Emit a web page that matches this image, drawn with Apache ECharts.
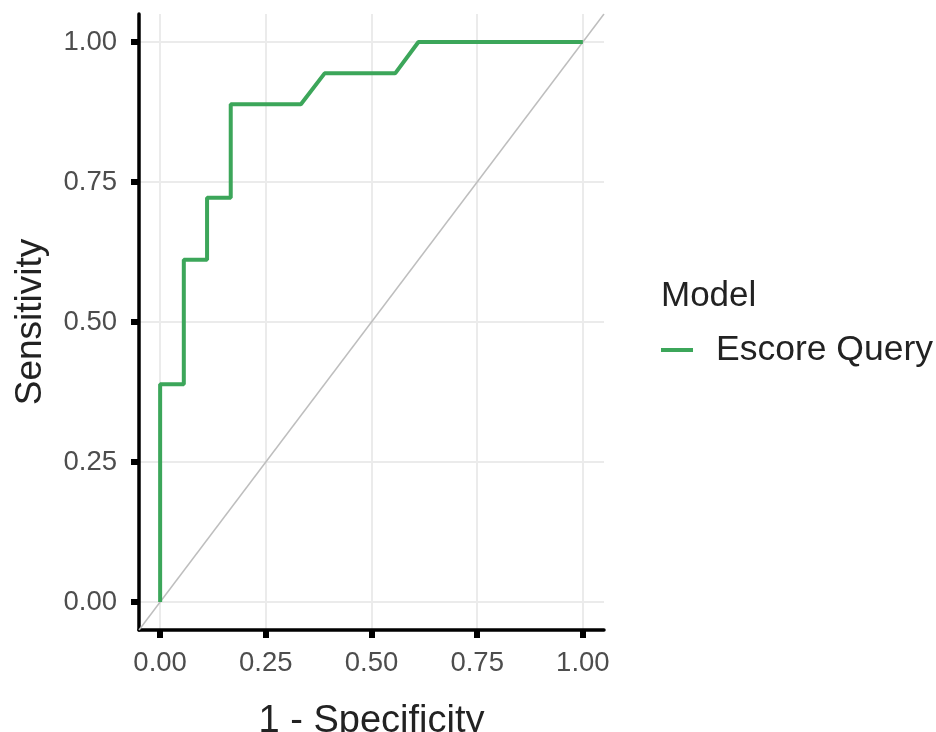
<!DOCTYPE html>
<html>
<head>
<meta charset="utf-8">
<script src="https://cdn.jsdelivr.net/npm/echarts@6/dist/echarts.min.js"></script>
<style>
  html, body { margin: 0; padding: 0; background: #fff; }
  #echarts { width: 936px; height: 732px; }
</style>
</head>
<body>
<div id="echarts"></div>
<script>
// ROC curve steps (1 - specificity, sensitivity)
var fpr = [0, 0, 0.056, 0.056, 0.111, 0.111, 0.167, 0.167, 0.333, 0.389, 0.556, 0.611, 1];
var tpr = [0, 0.389, 0.389, 0.611, 0.611, 0.722, 0.722, 0.889, 0.889, 0.944, 0.944, 1, 1];
var diagX = [-0.05, 1.05];
var diagY = [-0.05, 1.05];
var ticks = [0, 0.25, 0.5, 0.75, 1];
var modelName = 'Escore Query';

var font = 'Liberation Sans, Arial, sans-serif';

var rocData = fpr.map(function (x, i) { return [x, tpr[i]]; });
var diagData = diagX.map(function (x, i) { return [x, diagY[i]]; });

var myChart = echarts.init(document.getElementById('echarts'));

function axisCfg(name, nameSize, nameGap, labelMargin) {
    return {
        type: 'value',
        min: -0.05,
        max: 1.05,
        name: name,
        nameLocation: 'middle',
        nameGap: nameGap,
        nameTextStyle: { fontFamily: font, fontSize: nameSize, color: '#222' },
        axisLine: { show: true, onZero: false, lineStyle: { color: '#000', width: 3.5 } },
        axisTick: { show: true, length: 8, customValues: ticks, lineStyle: { color: '#000', width: 6 } },
        axisLabel: {
            customValues: ticks,
            margin: labelMargin,
            fontFamily: font,
            fontSize: 27.5,
            color: '#4d4d4d',
            formatter: function (v) { return v.toFixed(2); }
        },
        splitLine: { show: true, lineStyle: { color: '#ebebeb', width: 2 } }
    };
}

option = {
    animation: false,
    backgroundColor: '#fff',
    grid: { left: 139, right: 332, top: 14, bottom: 102, containLabel: false, outerBoundsMode: 'none' },
    title: {
        text: 'Model',
        left: 661,
        top: 279,
        padding: 0,
        textStyle: { fontFamily: font, fontSize: 35, fontWeight: 'normal', color: '#222' }
    },
    legend: {
        data: [modelName],
        left: 661,
        top: 332,
        padding: 0,
        icon: 'rect',
        itemWidth: 32,
        itemHeight: 4,
        textStyle: { fontFamily: font, fontSize: 35.5, color: '#222', padding: [0, 0, 0, 18] }
    },
    xAxis: axisCfg('1 - Specificity', 38, 73, 19),
    yAxis: axisCfg('Sensitivity', 37, 90, 22),
    series: [
        {
            name: 'diagonal',
            type: 'line',
            data: diagData,
            silent: true,
            showSymbol: false,
            symbol: 'none',
            lineStyle: { color: '#bebebe', width: 1.5 },
            z: 1
        },
        {
            name: modelName,
            type: 'line',
            data: rocData,
            showSymbol: false,
            symbol: 'none',
            color: '#3ca65a',
            lineStyle: { color: '#3ca65a', width: 4 },
            z: 2
        }
    ]
};

myChart.setOption(option);
</script>
</body>
</html>
